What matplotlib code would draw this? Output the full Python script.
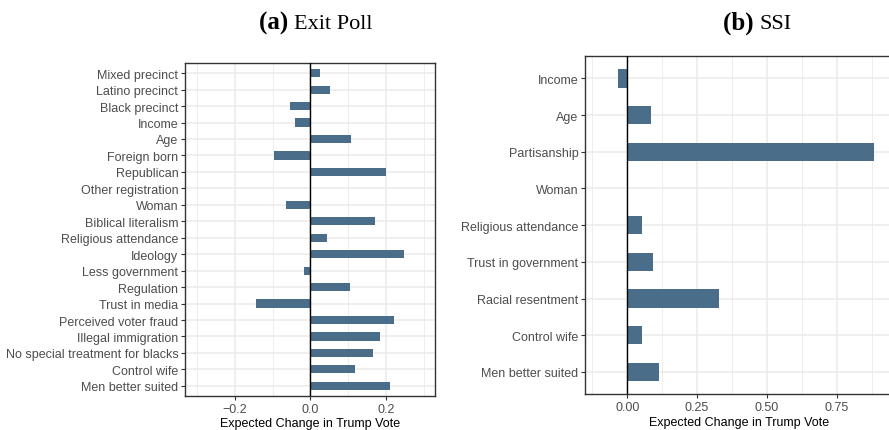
import numpy as np
import matplotlib
matplotlib.use("Agg")
import matplotlib.pyplot as plt

# ---- data ----
exit_labels = ["Mixed precinct", "Latino precinct", "Black precinct", "Income", "Age",
               "Foreign born", "Republican", "Other registration", "Woman",
               "Biblical literalism", "Religious attendance", "Ideology",
               "Less government", "Regulation", "Trust in media",
               "Perceived voter fraud", "Illegal immigration",
               "No special treatment for blacks", "Control wife", "Men better suited"]
exit_vals = [0.026, 0.052, -0.054, -0.041, 0.108, -0.096, 0.200, 0.0, -0.064,
             0.171, 0.044, 0.248, -0.017, 0.105, -0.144, 0.222, 0.184, 0.166,
             0.118, 0.211]

ssi_labels = ["Income", "Age", "Partisanship", "Woman", "Religious attendance",
              "Trust in government", "Racial resentment", "Control wife",
              "Men better suited"]
ssi_vals = [-0.033, 0.085, 0.883, 0.002, 0.053, 0.094, 0.328, 0.053, 0.114]

exit_ticks = [-0.2, 0.0, 0.2]
exit_minor = [-0.3, -0.1, 0.1, 0.3]
ssi_ticks = [0.0, 0.25, 0.50, 0.75]
ssi_minor = [-0.125, 0.125, 0.375, 0.625, 0.875]

BAR = "#4a6e8a"
GRID = "#ebebeb"
TXT = "#4d4d4d"

plt.rcParams["font.family"] = ["Liberation Sans", "DejaVu Sans"]

fig = plt.figure(figsize=(8.89, 4.31), dpi=100)


def panel(ax, labels, vals, xlim, ticks, minor, ticklabels):
    n = len(labels)
    ypos = np.arange(n)[::-1] + 1
    ax.set_xlim(*xlim)
    ax.set_ylim(0.4, n + 0.6)
    for m in minor:
        ax.axvline(m, color=GRID, lw=0.6, zorder=0)
    for t in ticks:
        ax.axvline(t, color=GRID, lw=1.1, zorder=0)
    for y in ypos:
        ax.axhline(y, color=GRID, lw=1.1, zorder=0)
    ax.barh(ypos, vals, height=0.5, color=BAR, zorder=2)
    ax.axvline(0, color="black", lw=1.0, zorder=3)
    ax.set_yticks(ypos)
    ax.set_yticklabels(labels)
    ax.set_xticks(ticks)
    ax.set_xticklabels(ticklabels)
    ax.tick_params(axis="both", colors="#333333", labelcolor=TXT, labelsize=9,
                   length=3, width=0.8, pad=2)
    for s in ax.spines.values():
        s.set_color("#333333")
        s.set_linewidth(1.0)
    ax.set_xlabel("Expected Change in Trump Vote", fontsize=9, color="black", labelpad=2)
    ax.set_facecolor("white")


ax1 = fig.add_axes([0.2084, 0.0796, 0.2809, 0.7712])
panel(ax1, exit_labels, exit_vals, (-0.331, 0.330), exit_ticks, exit_minor,
      ["\u22120.2", "0.0", "0.2"])

ax2 = fig.add_axes([0.6584, 0.0835, 0.3457, 0.7835])
panel(ax2, ssi_labels, ssi_vals, (-0.15, 0.95), ssi_ticks, ssi_minor,
      ["0.00", "0.25", "0.50", "0.75"])

serif = "Liberation Serif"
for x, tag, name in [(0.355, "(a)", "Exit Poll"), (0.852, "(b)", "SSI")]:
    t1 = fig.text(0, 0, tag + " ", fontsize=18, fontweight="bold", family=serif)
    t2 = fig.text(0, 0, name, fontsize=16, family=serif)
    fig.canvas.draw()
    r = fig.canvas.get_renderer()
    w1 = t1.get_window_extent(r).width / fig.bbox.width
    w2 = t2.get_window_extent(r).width / fig.bbox.width
    x0 = x - (w1 + w2) / 2
    t1.set_position((x0, 0.932))
    t2.set_position((x0 + w1, 0.932))

fig.savefig("out.png", dpi=100)
